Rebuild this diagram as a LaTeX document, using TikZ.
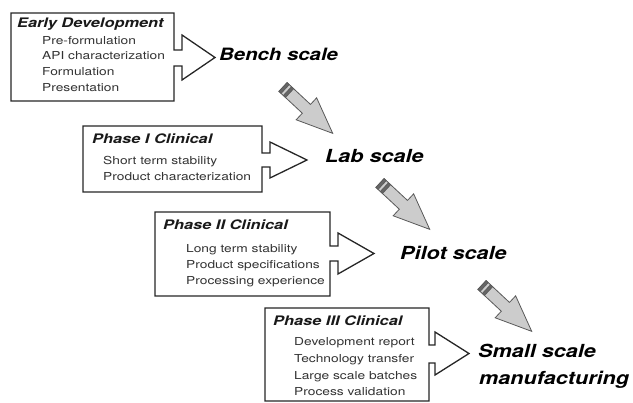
\documentclass[tikz,border=0pt]{standalone}
\usepackage{fontspec}
\newfontfamily\hvw[FakeStretch=1.25]{TeX Gyre Heros}
\newfontfamily\hvl[FakeStretch=1.2]{TeX Gyre Heros}
\tikzset{
 phasebox/.style={draw=black!85, line width=1.3pt, fill=white, line join=miter},
 headtxt/.style={anchor=mid west, inner sep=0pt, text=black!90, font=\hvw\bfseries\itshape\fontsize{13.1}{14}\selectfont},
 itemtxt/.style={anchor=mid west, inner sep=0pt, text=black!80, font=\hvw\fontsize{11}{12}\selectfont},
 scalelbl/.style={anchor=mid west, inner sep=0pt, text=black, font=\hvl\bfseries\itshape\fontsize{18}{20}\selectfont},
 grayarrow/.style={fill=black!20, draw=black!65, line width=0.8pt, line join=miter},
 band/.style={fill=black!60, draw=black!65, line width=0.6pt}
}
\newcommand{\fatarrow}[1]{%
 \begin{scope}[shift={(#1)}, rotate=-43]
  \draw[grayarrow] (0,-6) -- (32,-6) -- (32,-15) -- (68,0) -- (32,15) -- (32,6) -- (0,6) -- cycle;
  \draw[band] (0,-6) rectangle (3,6);
  \draw[band] (6,-6) rectangle (9,6);
 \end{scope}}
\begin{document}
\begin{tikzpicture}[x=1pt,y=-1pt]
\useasboundingbox (0,0) rectangle (633,403);

% Box 1
\draw[phasebox] (11,13) -- (174,13) -- (174,50) -- (182,50) -- (182,35) -- (215,57.5) -- (182,80) -- (182,66) -- (174,66) -- (174,101) -- (11,101) -- cycle;
\node[headtxt] (h1) at (17,25) {Early Development};
\node[itemtxt] (i11) at (42,42) {Pre-formulation};
\node[itemtxt] (i12) at (42,57.5) {API characterization};
\node[itemtxt] (i13) at (42,73) {Formulation};
\node[itemtxt] (i14) at (42,89) {Presentation};
\node[scalelbl, font=\hvl\bfseries\itshape\fontsize{17}{20}\selectfont] (bench) at (219,58) {Bench scale};

% Box 2
\draw[phasebox] (83,126) -- (262,126) -- (262,153) -- (270,153) -- (270,142) -- (307,160) -- (270,178) -- (270,167) -- (262,167) -- (262,192) -- (83,192) -- cycle;
\node[headtxt] (h2) at (92,141) {Phase I Clinical};
\node[itemtxt] (i21) at (103,162) {Short term stability};
\node[itemtxt] (i22) at (103,178) {Product characterization};
\node[scalelbl] (lab) at (325,160) {Lab scale};

% Box 3
\draw[phasebox] (155,212) -- (330,212) -- (330,246) -- (338,246) -- (338,233) -- (374,253.5) -- (338,274) -- (338,261) -- (330,261) -- (330,296) -- (155,296) -- cycle;
\node[headtxt] (h3) at (163,227) {Phase II Clinical};
\node[itemtxt] (i31) at (186,250) {Long term stability};
\node[itemtxt] (i32) at (186,266) {Product specifications};
\node[itemtxt] (i33) at (186,282) {Processing experience};
\node[scalelbl] (pilot) at (400,257) {Pilot scale};

% Box 4
\draw[phasebox] (265,308) -- (429,308) -- (429,345) -- (435,345) -- (435,332) -- (469,353.5) -- (435,375) -- (435,363) -- (429,363) -- (429,401) -- (265,401) -- cycle;
\node[headtxt] (h4) at (273,323) {Phase III Clinical};
\node[itemtxt] (i41) at (294,343) {Development report};
\node[itemtxt] (i42) at (294,360) {Technology transfer};
\node[itemtxt] (i43) at (294,377) {Large scale batches};
\node[itemtxt] (i44) at (294,393) {Process validation};
\node[scalelbl] (small) at (478,355) {Small scale};
\node[scalelbl] (manu) at (479,382) {manufacturing};

% gray arrows
\coordinate (t1) at (283,87);
\coordinate (t2) at (380,183);
\coordinate (t3) at (482,285);
\fatarrow{t1}
\fatarrow{t2}
\fatarrow{t3}
\end{tikzpicture}
\end{document}
